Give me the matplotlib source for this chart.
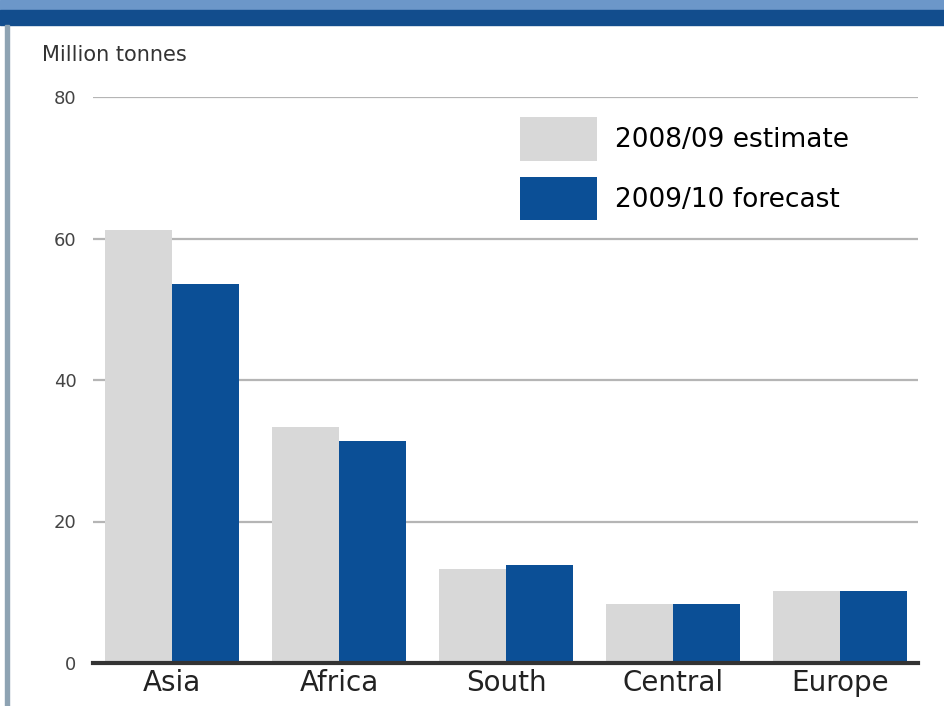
import numpy as np
import matplotlib.pyplot as plt
from matplotlib.patches import Rectangle

# ===== 数据 =====
regions = ["Asia", "Africa", "South", "Central", "Europe"]
estimate_0809 = [61.2, 33.4, 13.3, 8.3, 10.2]
forecast_0910 = [53.6, 31.4, 13.9, 8.3, 10.2]
series_labels = ["2008/09 estimate", "2009/10 forecast"]
yticks = [0, 20, 40, 60, 80]

grey = "#d8d8d8"
blue = "#0b4f96"

fig = plt.figure(figsize=(9.45, 7.06), dpi=100)
fig.patch.set_facecolor("white")

# 顶部色带与左边框
fig.add_artist(Rectangle((0, 1 - 10 / 706), 1, 10 / 706, transform=fig.transFigure,
                         color="#6c97c9", zorder=0))
fig.add_artist(Rectangle((0, 1 - 25 / 706), 1, 15 / 706, transform=fig.transFigure,
                         color="#124d8d", zorder=0))
fig.add_artist(Rectangle((5 / 945, 0), 4 / 945, 1 - 25 / 706, transform=fig.transFigure,
                         color="#8ea3b3", zorder=0))

ax = fig.add_axes([93 / 945, 1 - 663 / 706, (918 - 93) / 945, (663 - 97) / 706])
x = np.arange(len(regions))
w = 0.4
ax.bar(x - w / 2, estimate_0809, w, color=grey, zorder=2, label=series_labels[0])
ax.bar(x + w / 2, forecast_0910, w, color=blue, zorder=2, label=series_labels[1])

ax.set_xlim(-0.473, 4.467)
ax.set_ylim(0, 80)
ax.set_yticks(yticks)
ax.set_yticklabels([str(t) for t in yticks], fontsize=13, color="#444444")
ax.yaxis.grid(True, color="#b5b5b5", linewidth=1.6, zorder=1)
ax.set_xticks(x)
ax.set_xticklabels(regions, fontsize=20, color="#222222")
ax.tick_params(axis="y", length=0, pad=12)
ax.tick_params(axis="x", length=0, pad=4)
for s in ["top", "right", "left"]:
    ax.spines[s].set_visible(False)
ax.spines["bottom"].set_color("#333333")
ax.spines["bottom"].set_linewidth(3)
ax.spines["bottom"].set_zorder(3)

fig.text(42 / 945, 1 - 55 / 706, "Million tonnes", fontsize=15, color="#333333",
         va="center", ha="left")

leg = ax.legend(loc="upper left", bbox_to_anchor=(0.5176, 0.965), frameon=False,
                fontsize=19, handlelength=2.92, handleheight=2.18,
                handletextpad=0.68, labelspacing=0.6, borderpad=0, borderaxespad=0)

fig.savefig("out.png", dpi=100)
